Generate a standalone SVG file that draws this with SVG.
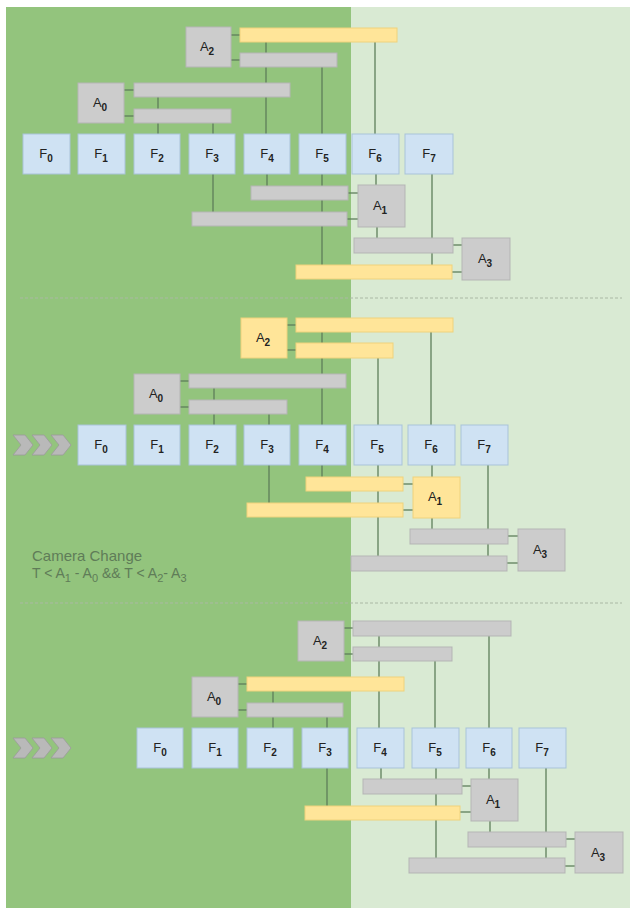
<svg xmlns="http://www.w3.org/2000/svg" width="630" height="908" viewBox="0 0 630 908">
<style>
.f{fill:#cfe2f3;stroke:#a9c3d9;stroke-width:1}
.g{fill:#cccccc;stroke:#b5b5b5;stroke-width:1}
.y{fill:#ffe599;stroke:#efd27c;stroke-width:1}
.lb{font-family:"Liberation Sans",Arial,sans-serif;font-size:13px;fill:#222;text-anchor:middle}
.sb{font-size:10px;font-weight:bold}
#conn line{stroke:#5e7e5a;stroke-width:1.3}
.sep{stroke:#aab8a4;stroke-width:1;stroke-dasharray:3 2}
.chev{fill:#b9b9b9;stroke:#9a9a9a;stroke-width:0.8}
.cap{font-family:"Liberation Sans",Arial,sans-serif;fill:#5f7c58}
</style>
<rect x="0" y="0" width="630" height="908" fill="#ffffff"/>
<rect x="6" y="7" width="345" height="901" fill="#93c47d"/>
<rect x="351" y="7" width="279" height="901" fill="#d9ead3"/>
<line class="sep" x1="20" y1="298" x2="622" y2="298"/>
<line class="sep" x1="20" y1="603" x2="622" y2="603"/>

<g id="conn">
<line x1="231" y1="35" x2="240" y2="35"/><line x1="231" y1="60" x2="240" y2="60"/>
<line x1="124" y1="90" x2="134" y2="90"/><line x1="124" y1="116" x2="134" y2="116"/>
<line x1="266" y1="42" x2="266" y2="134"/>
<line x1="322" y1="67" x2="322" y2="134"/>
<line x1="375" y1="42" x2="375" y2="134"/>
<line x1="158" y1="97" x2="158" y2="134"/>
<line x1="213" y1="123" x2="213" y2="134"/>
<line x1="267" y1="174" x2="267" y2="186"/>
<line x1="213" y1="174" x2="213" y2="212"/>
<line x1="376" y1="174" x2="376" y2="185"/>
<line x1="377" y1="227" x2="377" y2="238"/>
<line x1="432" y1="174" x2="432" y2="265"/>
<line x1="322" y1="174" x2="322" y2="265"/>
<line x1="348" y1="193" x2="358" y2="193"/><line x1="347" y1="219" x2="358" y2="219"/>
<line x1="453" y1="245" x2="462" y2="245"/><line x1="452" y1="272" x2="462" y2="272"/>
<line x1="287" y1="325" x2="296" y2="325"/><line x1="287" y1="350" x2="296" y2="350"/>
<line x1="180" y1="381" x2="189" y2="381"/><line x1="180" y1="407" x2="189" y2="407"/>
<line x1="214" y1="388" x2="214" y2="425"/>
<line x1="269" y1="414" x2="269" y2="425"/>
<line x1="322" y1="332" x2="322" y2="425"/>
<line x1="378" y1="358" x2="378" y2="425"/>
<line x1="431" y1="332" x2="431" y2="425"/>
<line x1="322" y1="465" x2="322" y2="477"/>
<line x1="269" y1="465" x2="269" y2="503"/>
<line x1="378" y1="465" x2="378" y2="556"/>
<line x1="432" y1="465" x2="432" y2="477"/>
<line x1="432" y1="518" x2="432" y2="529"/>
<line x1="488" y1="465" x2="488" y2="556"/>
<line x1="403" y1="484" x2="413" y2="484"/><line x1="403" y1="510" x2="413" y2="510"/>
<line x1="508" y1="536" x2="518" y2="536"/><line x1="507" y1="563" x2="518" y2="563"/>
<line x1="344" y1="628" x2="353" y2="628"/><line x1="344" y1="654" x2="353" y2="654"/>
<line x1="238" y1="684" x2="247" y2="684"/><line x1="238" y1="710" x2="247" y2="710"/>
<line x1="273" y1="691" x2="273" y2="728"/>
<line x1="327" y1="717" x2="327" y2="728"/>
<line x1="379" y1="636" x2="379" y2="728"/>
<line x1="435" y1="661" x2="435" y2="728"/>
<line x1="489" y1="636" x2="489" y2="728"/>
<line x1="381" y1="768" x2="381" y2="779"/>
<line x1="327" y1="768" x2="327" y2="806"/>
<line x1="436" y1="768" x2="436" y2="858"/>
<line x1="489" y1="768" x2="489" y2="779"/>
<line x1="490" y1="821" x2="490" y2="832"/>
<line x1="546" y1="768" x2="546" y2="858"/>
<line x1="462" y1="786" x2="471" y2="786"/><line x1="460" y1="812" x2="471" y2="812"/>
<line x1="566" y1="839" x2="575" y2="839"/><line x1="565" y1="866" x2="575" y2="866"/>
</g>

<g id="t-bars">
<rect class="y" x="240" y="28" width="157" height="14"/>
<rect class="g" x="240" y="53" width="97" height="14"/>
<rect class="g" x="134" y="83" width="156" height="14"/>
<rect class="g" x="134" y="109" width="97" height="14"/>
<rect class="g" x="251" y="186" width="97" height="14"/>
<rect class="g" x="192" y="212" width="155" height="14"/>
<rect class="g" x="354" y="238" width="99" height="15"/>
<rect class="y" x="296" y="265" width="156" height="14"/>
</g>
<g id="t-A2"><rect class="g" x="186" y="27" width="45" height="40"/><text class="lb" x="207" y="51">A<tspan class="sb" dy="4">2</tspan></text></g>
<g id="t-A0"><rect class="g" x="78" y="83" width="46" height="40"/><text class="lb" x="100" y="107">A<tspan class="sb" dy="4">0</tspan></text></g>
<g id="t-A1"><rect class="g" x="358" y="185" width="47" height="42"/><text class="lb" x="380" y="210">A<tspan class="sb" dy="4">1</tspan></text></g>
<g id="t-A3"><rect class="g" x="462" y="238" width="48" height="42"/><text class="lb" x="485" y="263">A<tspan class="sb" dy="4">3</tspan></text></g>
<g id="t-F0"><rect class="f" x="23" y="134" width="47" height="40"/><text class="lb" x="46" y="158">F<tspan class="sb" dy="4">0</tspan></text></g>
<g id="t-F1"><rect class="f" x="78" y="134" width="47" height="40"/><text class="lb" x="101" y="158">F<tspan class="sb" dy="4">1</tspan></text></g>
<g id="t-F2"><rect class="f" x="134" y="134" width="46" height="40"/><text class="lb" x="157" y="158">F<tspan class="sb" dy="4">2</tspan></text></g>
<g id="t-F3"><rect class="f" x="189" y="134" width="46" height="40"/><text class="lb" x="212" y="158">F<tspan class="sb" dy="4">3</tspan></text></g>
<g id="t-F4"><rect class="f" x="244" y="134" width="46" height="40"/><text class="lb" x="267" y="158">F<tspan class="sb" dy="4">4</tspan></text></g>
<g id="t-F5"><rect class="f" x="299" y="134" width="47" height="40"/><text class="lb" x="322" y="158">F<tspan class="sb" dy="4">5</tspan></text></g>
<g id="t-F6"><rect class="f" x="352" y="134" width="47" height="40"/><text class="lb" x="375" y="158">F<tspan class="sb" dy="4">6</tspan></text></g>
<g id="t-F7"><rect class="f" x="405" y="134" width="48" height="40"/><text class="lb" x="429" y="158">F<tspan class="sb" dy="4">7</tspan></text></g>

<g id="m-bars">
<rect class="y" x="296" y="318" width="157" height="14"/>
<rect class="y" x="296" y="343" width="97" height="15"/>
<rect class="g" x="189" y="374" width="157" height="14"/>
<rect class="g" x="189" y="400" width="98" height="14"/>
<rect class="y" x="306" y="477" width="97" height="14"/>
<rect class="y" x="247" y="503" width="156" height="14"/>
<rect class="g" x="410" y="529" width="98" height="15"/>
<rect class="g" x="351" y="556" width="156" height="15"/>
</g>
<g id="m-chev">
<polygon class="chev" points="13,435 25,435 33,445 25,455 13,455 21,445"/>
<polygon class="chev" points="32,435 44,435 52,445 44,455 32,455 40,445"/>
<polygon class="chev" points="51,435 63,435 71,445 63,455 51,455 59,445"/>
</g>
<g id="m-A2"><rect class="y" x="241" y="318" width="46" height="40"/><text class="lb" x="263" y="342">A<tspan class="sb" dy="4">2</tspan></text></g>
<g id="m-A0"><rect class="g" x="134" y="374" width="46" height="40"/><text class="lb" x="156" y="398">A<tspan class="sb" dy="4">0</tspan></text></g>
<g id="m-A1"><rect class="y" x="413" y="477" width="47" height="41"/><text class="lb" x="435" y="501">A<tspan class="sb" dy="4">1</tspan></text></g>
<g id="m-A3"><rect class="g" x="518" y="529" width="47" height="42"/><text class="lb" x="540" y="554">A<tspan class="sb" dy="4">3</tspan></text></g>
<g id="m-F0"><rect class="f" x="78" y="425" width="48" height="40"/><text class="lb" x="101" y="449">F<tspan class="sb" dy="4">0</tspan></text></g>
<g id="m-F1"><rect class="f" x="134" y="425" width="46" height="40"/><text class="lb" x="157" y="449">F<tspan class="sb" dy="4">1</tspan></text></g>
<g id="m-F2"><rect class="f" x="189" y="425" width="47" height="40"/><text class="lb" x="212" y="449">F<tspan class="sb" dy="4">2</tspan></text></g>
<g id="m-F3"><rect class="f" x="244" y="425" width="46" height="40"/><text class="lb" x="267" y="449">F<tspan class="sb" dy="4">3</tspan></text></g>
<g id="m-F4"><rect class="f" x="299" y="425" width="47" height="40"/><text class="lb" x="322" y="449">F<tspan class="sb" dy="4">4</tspan></text></g>
<g id="m-F5"><rect class="f" x="354" y="425" width="48" height="40"/><text class="lb" x="377" y="449">F<tspan class="sb" dy="4">5</tspan></text></g>
<g id="m-F6"><rect class="f" x="408" y="425" width="47" height="40"/><text class="lb" x="431" y="449">F<tspan class="sb" dy="4">6</tspan></text></g>
<g id="m-F7"><rect class="f" x="461" y="425" width="47" height="40"/><text class="lb" x="484" y="449">F<tspan class="sb" dy="4">7</tspan></text></g>
<g id="caption">
<text class="cap" x="32" y="561" font-size="15">Camera Change</text>
<text class="cap" x="32" y="578" font-size="14">T &lt; A<tspan dy="4" font-size="11">1</tspan><tspan dy="-4"> - A</tspan><tspan dy="4" font-size="11">0</tspan><tspan dy="-4"> &amp;&amp; T &lt; A</tspan><tspan dy="4" font-size="11">2</tspan><tspan dy="-4">- A</tspan><tspan dy="4" font-size="11">3</tspan></text>
</g>

<g id="b-bars">
<rect class="g" x="353" y="621" width="158" height="15"/>
<rect class="g" x="353" y="647" width="99" height="14"/>
<rect class="y" x="247" y="677" width="157" height="14"/>
<rect class="g" x="247" y="703" width="96" height="14"/>
<rect class="g" x="363" y="779" width="99" height="15"/>
<rect class="y" x="305" y="806" width="155" height="14"/>
<rect class="g" x="468" y="832" width="98" height="15"/>
<rect class="g" x="409" y="858" width="156" height="15"/>
</g>
<g id="b-chev">
<polygon class="chev" points="13,738 25,738 33,748 25,758 13,758 21,748"/>
<polygon class="chev" points="32,738 44,738 52,748 44,758 32,758 40,748"/>
<polygon class="chev" points="51,738 63,738 71,748 63,758 51,758 59,748"/>
</g>
<g id="b-A2"><rect class="g" x="298" y="621" width="46" height="40"/><text class="lb" x="320" y="645">A<tspan class="sb" dy="4">2</tspan></text></g>
<g id="b-A0"><rect class="g" x="192" y="677" width="46" height="40"/><text class="lb" x="214" y="701">A<tspan class="sb" dy="4">0</tspan></text></g>
<g id="b-A1"><rect class="g" x="471" y="779" width="47" height="42"/><text class="lb" x="493" y="804">A<tspan class="sb" dy="4">1</tspan></text></g>
<g id="b-A3"><rect class="g" x="575" y="832" width="48" height="41"/><text class="lb" x="598" y="857">A<tspan class="sb" dy="4">3</tspan></text></g>
<g id="b-F0"><rect class="f" x="137" y="728" width="46" height="40"/><text class="lb" x="160" y="752">F<tspan class="sb" dy="4">0</tspan></text></g>
<g id="b-F1"><rect class="f" x="192" y="728" width="46" height="40"/><text class="lb" x="215" y="752">F<tspan class="sb" dy="4">1</tspan></text></g>
<g id="b-F2"><rect class="f" x="247" y="728" width="46" height="40"/><text class="lb" x="270" y="752">F<tspan class="sb" dy="4">2</tspan></text></g>
<g id="b-F3"><rect class="f" x="302" y="728" width="46" height="40"/><text class="lb" x="325" y="752">F<tspan class="sb" dy="4">3</tspan></text></g>
<g id="b-F4"><rect class="f" x="357" y="728" width="47" height="40"/><text class="lb" x="380" y="752">F<tspan class="sb" dy="4">4</tspan></text></g>
<g id="b-F5"><rect class="f" x="412" y="728" width="47" height="40"/><text class="lb" x="435" y="752">F<tspan class="sb" dy="4">5</tspan></text></g>
<g id="b-F6"><rect class="f" x="466" y="728" width="46" height="40"/><text class="lb" x="489" y="752">F<tspan class="sb" dy="4">6</tspan></text></g>
<g id="b-F7"><rect class="f" x="519" y="728" width="47" height="40"/><text class="lb" x="542" y="752">F<tspan class="sb" dy="4">7</tspan></text></g>
</svg>
